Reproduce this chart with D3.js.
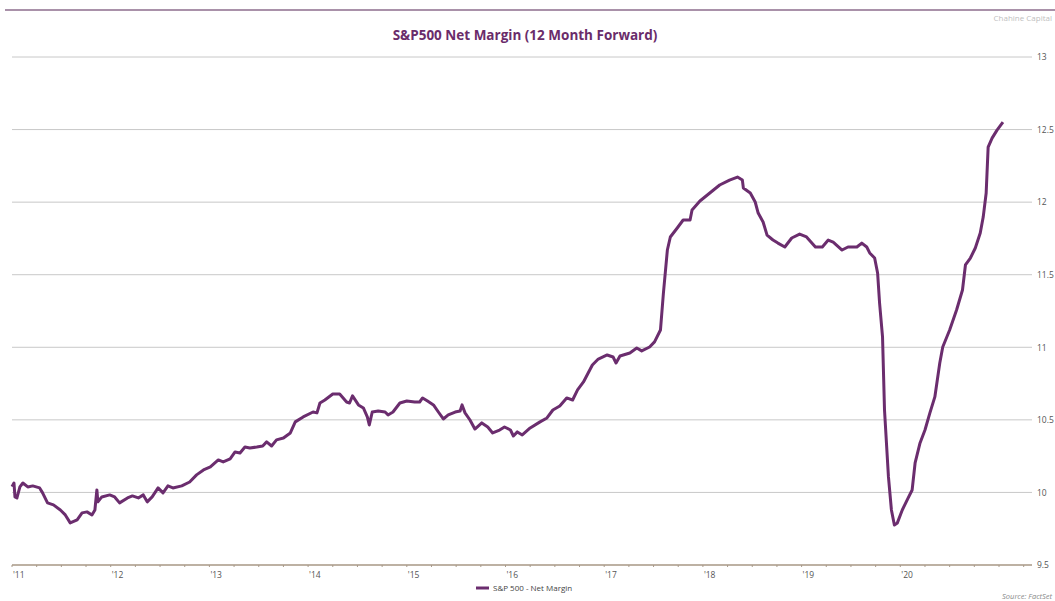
<!DOCTYPE html>
<html>
<head>
<meta charset="utf-8">
<script src="https://cdn.jsdelivr.net/npm/d3@7"></script>
<style>
  body { margin: 0; background: #fff; }
  svg { display: block; font-family: "Open Sans", "DejaVu Sans", sans-serif; }
</style>
</head>
<body>
<svg id="chart" width="1055" height="601"></svg>
<script>
// values (decimal year, net margin %)
const years = [
  2011.00, 2011.02, 2011.03, 2011.05, 2011.08, 2011.11, 2011.16, 2011.21, 2011.28, 2011.31,
  2011.36, 2011.42, 2011.49, 2011.54, 2011.59, 2011.66, 2011.71, 2011.76, 2011.81, 2011.84,
  2011.86, 2011.87, 2011.91, 2011.99, 2012.04, 2012.09, 2012.17, 2012.22, 2012.28, 2012.33,
  2012.37, 2012.42, 2012.48, 2012.53, 2012.58, 2012.63, 2012.72, 2012.80, 2012.87, 2012.94,
  2013.01, 2013.09, 2013.14, 2013.21, 2013.26, 2013.31, 2013.36, 2013.41, 2013.48, 2013.54,
  2013.58, 2013.63, 2013.68, 2013.75, 2013.82, 2013.87, 2013.95, 2014.05, 2014.09, 2014.12,
  2014.17, 2014.25, 2014.32, 2014.39, 2014.42, 2014.45, 2014.51, 2014.56, 2014.60, 2014.62,
  2014.65, 2014.71, 2014.78, 2014.81, 2014.86, 2014.93, 2015.00, 2015.08, 2015.13, 2015.16,
  2015.21, 2015.27, 2015.32, 2015.37, 2015.42, 2015.49, 2015.54, 2015.56, 2015.59, 2015.64,
  2015.69, 2015.76, 2015.82, 2015.87, 2015.94, 2015.99, 2016.05, 2016.08, 2016.12, 2016.17,
  2016.25, 2016.35, 2016.42, 2016.48, 2016.55, 2016.62, 2016.68, 2016.73, 2016.79, 2016.88,
  2016.94, 2017.03, 2017.09, 2017.12, 2017.16, 2017.26, 2017.33, 2017.38, 2017.46, 2017.51,
  2017.57, 2017.60, 2017.64, 2017.67, 2017.74, 2017.80, 2017.87, 2017.89, 2017.97, 2018.07,
  2018.17, 2018.27, 2018.35, 2018.40, 2018.41, 2018.48, 2018.53, 2018.56, 2018.61, 2018.65,
  2018.71, 2018.76, 2018.83, 2018.90, 2018.98, 2019.05, 2019.14, 2019.21, 2019.27, 2019.32,
  2019.41, 2019.47, 2019.56, 2019.61, 2019.66, 2019.69, 2019.74, 2019.77, 2019.79, 2019.82,
  2019.84, 2019.88, 2019.91, 2019.94, 2019.97, 2020.02, 2020.08, 2020.12, 2020.15, 2020.20,
  2020.25, 2020.30, 2020.35, 2020.40, 2020.43, 2020.50, 2020.57, 2020.63, 2020.66, 2020.71,
  2020.76, 2020.81, 2020.84, 2020.87, 2020.89, 2020.93, 2020.98, 2021.04
];
const netMargin = [
  10.04, 10.065, 9.969, 9.962, 10.038, 10.065, 10.038, 10.045, 10.031, 9.997,
  9.928, 9.914, 9.879, 9.845, 9.790, 9.811, 9.859, 9.866, 9.845, 9.879,
  10.017, 9.935, 9.969, 9.983, 9.969, 9.928, 9.962, 9.976, 9.962, 9.983,
  9.935, 9.969, 10.031, 9.997, 10.045, 10.031, 10.045, 10.072, 10.121, 10.155,
  10.176, 10.224, 10.210, 10.231, 10.279, 10.272, 10.313, 10.306, 10.313, 10.320,
  10.348, 10.320, 10.362, 10.375, 10.410, 10.486, 10.520, 10.554, 10.548, 10.616,
  10.637, 10.678, 10.678, 10.623, 10.616, 10.665, 10.603, 10.582, 10.520, 10.465,
  10.554, 10.561, 10.554, 10.534, 10.554, 10.616, 10.630, 10.623, 10.623, 10.651,
  10.630, 10.603, 10.554, 10.506, 10.534, 10.554, 10.561, 10.603, 10.548, 10.499,
  10.437, 10.479, 10.451, 10.410, 10.430, 10.451, 10.430, 10.389, 10.417, 10.396,
  10.444, 10.486, 10.513, 10.568, 10.596, 10.651, 10.637, 10.706, 10.761, 10.878,
  10.919, 10.947, 10.933, 10.892, 10.940, 10.961, 10.995, 10.975, 11.002, 11.037,
  11.119, 11.374, 11.670, 11.760, 11.822, 11.877, 11.877, 11.946, 12.008, 12.063,
  12.118, 12.152, 12.173, 12.152, 12.097, 12.063, 12.001, 11.925, 11.863, 11.773,
  11.739, 11.718, 11.691, 11.753, 11.780, 11.760, 11.691, 11.691, 11.739, 11.725,
  11.670, 11.691, 11.691, 11.718, 11.691, 11.650, 11.615, 11.512, 11.305, 11.071,
  10.568, 10.107, 9.879, 9.776, 9.790, 9.879, 9.962, 10.017, 10.203, 10.341,
  10.430, 10.548, 10.658, 10.892, 11.002, 11.119, 11.257, 11.395, 11.567, 11.615,
  11.684, 11.787, 11.897, 12.063, 12.379, 12.441, 12.496, 12.551
];
const yTicks = [9.5, 10, 10.5, 11, 11.5, 12, 12.5, 13];
const xTicks = [2011, 2012, 2013, 2014, 2015, 2016, 2017, 2018, 2019, 2020];
const yTickLabels = ["9.5", "10", "10.5", "11", "11.5", "12", "12.5", "13"];

const title = "S&P500 Net Margin (12 Month Forward)";
const seriesName = "S&P 500 - Net Margin";

const svg = d3.select("#chart");
const plotLeft = 12, plotRight = 1032, plotTop = 57, plotBottom = 565;

const x = d3.scaleLinear().domain([2011, 2011 + (plotRight - plotLeft) / 98.7]).range([plotLeft, plotRight]);
const y = d3.scaleLinear().domain([9.5, 13]).range([plotBottom, plotTop]);

// top rule
svg.append("line")
  .attr("x1", 5).attr("x2", 1055).attr("y1", 10).attr("y2", 10)
  .attr("stroke", "#8c6c8c").attr("stroke-width", 1.5);

svg.append("text")
  .attr("x", 1052).attr("y", 21)
  .attr("text-anchor", "end")
  .attr("font-size", 8).attr("fill", "#c0c0c0")
  .text("Chahine Capital");

svg.append("text")
  .attr("x", 525).attr("y", 40)
  .attr("text-anchor", "middle")
  .attr("font-size", 13.5).attr("font-weight", "bold")
  .attr("fill", "#6a2c6a")
  .text(title);

// horizontal grid lines
const grid = svg.append("g");
yTicks.forEach(t => {
  if (t === 9.5) return;
  grid.append("line")
    .attr("x1", plotLeft).attr("x2", plotRight)
    .attr("y1", y(t)).attr("y2", y(t))
    .attr("stroke", "#c8c8c8").attr("stroke-width", 1);
});

// right axis labels
const yAxis = d3.axisRight(y).tickValues(yTicks).tickSize(0).tickPadding(5)
  .tickFormat((d, i) => yTickLabels[i]);
svg.append("g")
  .attr("transform", `translate(${plotRight},0)`)
  .call(yAxis)
  .call(g => g.select(".domain").remove())
  .call(g => g.selectAll("text").attr("font-size", 8.5).attr("fill", "#555")
    .attr("font-family", "Open Sans, DejaVu Sans, sans-serif"));

// x axis line with quarterly ticks
svg.append("line")
  .attr("x1", plotLeft).attr("x2", plotRight)
  .attr("y1", plotBottom).attr("y2", plotBottom)
  .attr("stroke", "#bdb1a3").attr("stroke-width", 1.8);

const quarters = d3.range(2011, 2021.3, 0.25);
svg.append("g").selectAll("line")
  .data(quarters)
  .join("line")
  .attr("x1", d => x(d)).attr("x2", d => x(d))
  .attr("y1", plotBottom).attr("y2", plotBottom + 2)
  .attr("stroke", "#a89a8a").attr("stroke-width", 1);

svg.append("g").selectAll("text")
  .data(xTicks)
  .join("text")
  .attr("x", d => x(d) + 1).attr("y", plotBottom + 13)
  .attr("font-size", 8.5).attr("fill", "#555")
  .text(d => "'" + String(d).slice(2));

// series line
const pts = years.map((yr, i) => [yr, netMargin[i]]);
const line = d3.line().x(d => x(d[0])).y(d => y(d[1]));
svg.append("path")
  .datum(pts)
  .attr("d", line)
  .attr("fill", "none")
  .attr("stroke", "#6b2d6e")
  .attr("stroke-width", 3)
  .attr("stroke-linejoin", "round");

// legend
const legend = svg.append("g").attr("transform", "translate(476,588)");
legend.append("line")
  .attr("x1", 0).attr("x2", 13).attr("y1", 0).attr("y2", 0)
  .attr("stroke", "#6b2d6e").attr("stroke-width", 3);
legend.append("text")
  .attr("x", 17).attr("y", 3)
  .attr("font-size", 8).attr("fill", "#444")
  .text(seriesName);

svg.append("text")
  .attr("x", 1052).attr("y", 599)
  .attr("text-anchor", "end")
  .attr("font-size", 7.5).attr("font-style", "italic").attr("fill", "#8a8a8a")
  .text("Source: FactSet");
</script>
</body>
</html>
